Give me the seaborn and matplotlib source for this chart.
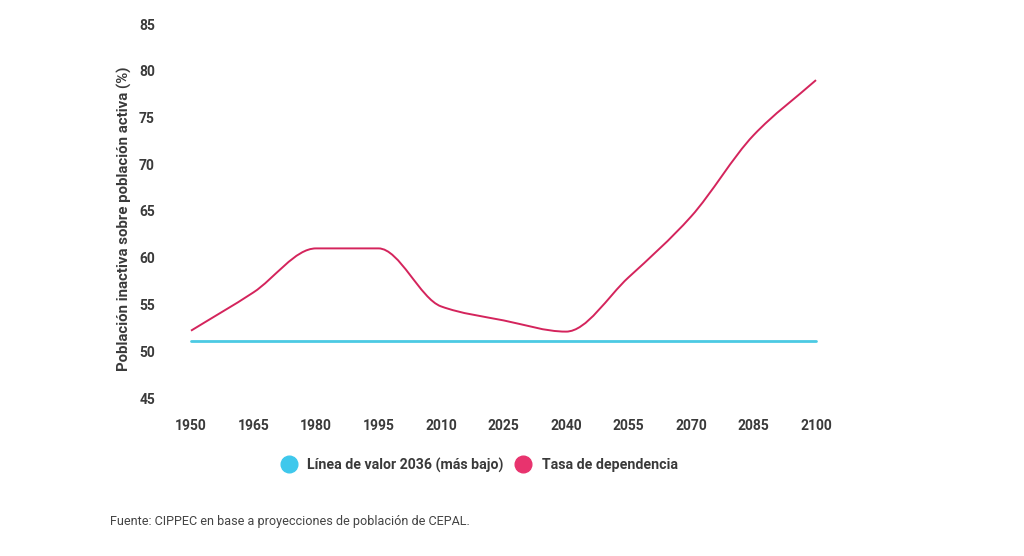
import numpy as np
import pandas as pd
import matplotlib
matplotlib.use("Agg")
import matplotlib.pyplot as plt
from matplotlib.path import Path
from matplotlib.patches import PathPatch
from matplotlib.lines import Line2D
import seaborn as sns

# ── Data ──────────────────────────────────────────────────
years = [1950, 1965, 1980, 1995, 2010, 2025, 2040, 2055, 2070, 2085, 2100]
tasa_dependencia = [52.2, 56.3, 61.0, 61.0, 54.8, 53.3, 52.1, 57.9, 64.4, 73.1, 79.0]
valor_2036 = [51.1] * len(years)
y_ticks = [45, 50, 55, 60, 65, 70, 75, 80, 85]

CYAN = "#4ccae3"
CYAN_DOT = "#3fc8ec"
PINK = "#d4245c"
PINK_DOT = "#e8336e"
TXT = "#3a3a3a"

sns.set_theme(style="white")
plt.rcParams["font.family"] = ["Roboto", "DejaVu Sans"]

df = pd.DataFrame({"year": years, "tasa": tasa_dependencia, "base": valor_2036})

fig = plt.figure(figsize=(10.24, 5.56), dpi=100)
ax = fig.add_axes([191 / 1024, 1 - 398 / 556, 625 / 1024, 374 / 556])

# cyan reference line
sns.lineplot(data=df, x="year", y="base", ax=ax, color=CYAN, linewidth=2.0,
             clip_on=False)


# smooth monotone curve through the dependency values
def monotone_path(x, y):
    x = np.asarray(x, float)
    y = np.asarray(y, float)
    h = np.diff(x)
    d = np.diff(y) / h
    m = np.zeros_like(y)
    m[0], m[-1] = d[0], d[-1]
    for i in range(1, len(y) - 1):
        if d[i - 1] * d[i] <= 0:
            m[i] = 0
        else:
            w1 = 2 * h[i] + h[i - 1]
            w2 = h[i] + 2 * h[i - 1]
            m[i] = (w1 + w2) / (w1 / d[i - 1] + w2 / d[i])
    verts = [(x[0], y[0])]
    codes = [Path.MOVETO]
    for i in range(len(x) - 1):
        verts += [(x[i] + h[i] / 3, y[i] + m[i] * h[i] / 3),
                  (x[i + 1] - h[i] / 3, y[i + 1] - m[i + 1] * h[i] / 3),
                  (x[i + 1], y[i + 1])]
        codes += [Path.CURVE4] * 3
    return Path(verts, codes)


ax.add_patch(PathPatch(monotone_path(df["year"], df["tasa"]), facecolor="none",
                       edgecolor=PINK, linewidth=1.4, clip_on=False))

ax.set_xlim(1950, 2100)
ax.set_ylim(45, 85)
ax.set_xticks(years)
ax.set_yticks(y_ticks)
ax.tick_params(axis="x", length=0, pad=15, labelsize=10, labelcolor=TXT)
ax.tick_params(axis="y", length=0, pad=26, labelsize=10, labelcolor=TXT)
for lbl in ax.get_xticklabels() + ax.get_yticklabels():
    lbl.set_fontweight("bold")
ax.set_xlabel("")
ax.set_ylabel("Población inactiva sobre población activa (%)", fontsize=10.8,
              color=TXT, fontweight="bold")
ax.yaxis.set_label_coords(-0.094, 0.48)
sns.despine(ax=ax, left=True, bottom=True)
ax.grid(False)

handles = [
    Line2D([], [], marker="o", linestyle="none", markersize=12,
           markerfacecolor=CYAN_DOT, markeredgecolor=CYAN_DOT),
    Line2D([], [], marker="o", linestyle="none", markersize=12,
           markerfacecolor=PINK_DOT, markeredgecolor=PINK_DOT),
]
leg = fig.legend(handles, ["Línea de valor 2036 (más bajo)", "Tasa de dependencia"],
                 loc="center", bbox_to_anchor=(476 / 1024, 1 - 465 / 556),
                 ncol=2, frameon=False, handletextpad=0.3, columnspacing=0.4,
                 prop={"size": 10.2, "weight": "bold"})
for t in leg.get_texts():
    t.set_color(TXT)

fig.text(110 / 1024, 1 - 522 / 556,
         "Fuente: CIPPEC en base a proyecciones de población de CEPAL.",
         fontsize=9.1, color="#444444", va="center", ha="left")

fig.savefig("out.png", dpi=100, facecolor="white")
